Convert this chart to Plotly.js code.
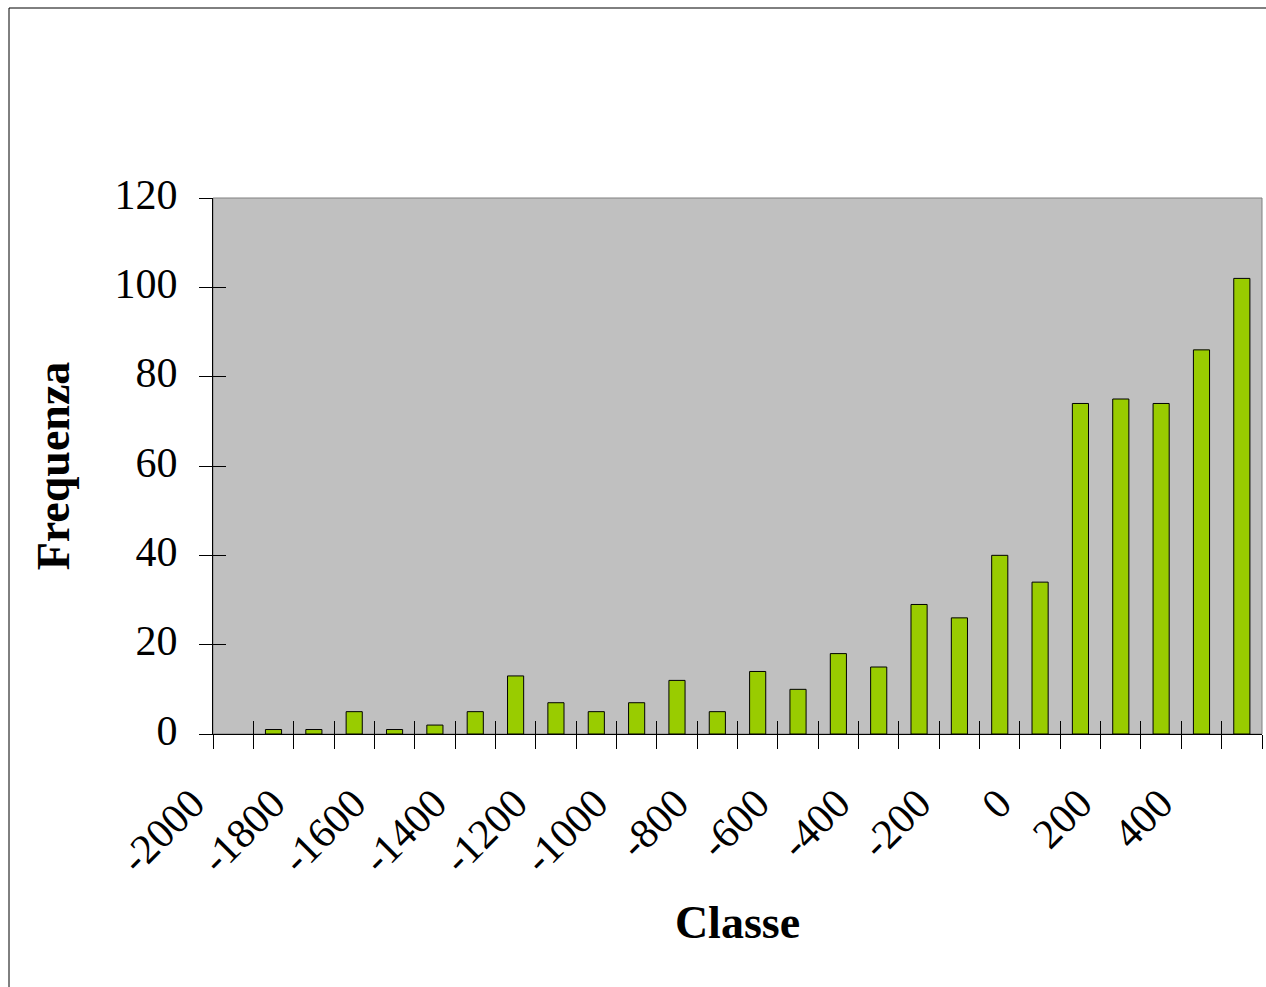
<!DOCTYPE html>
<html>
<head>
<meta charset="utf-8">
<script src="https://cdn.plot.ly/plotly-3.0.1.min.js"></script>
<style>
  html, body { margin: 0; padding: 0; background: #ffffff; }
  #chart { width: 1266px; height: 987px; }
</style>
</head>
<body>
<div id="chart"></div>
<script>
// Class centres (x) and frequencies (y)
const classes = [-2000, -1900, -1800, -1700, -1600, -1500, -1400, -1300, -1200, -1100,
                 -1000, -900, -800, -700, -600, -500, -400, -300, -200, -100,
                 0, 100, 200, 300, 400, 500];
const freq = [0, 1, 1, 5, 1, 2, 5, 13, 7, 5,
              7, 12, 5, 14, 10, 18, 15, 29, 26, 40,
              34, 74, 75, 74, 86, 102];
const xTickLabels = ['-2000', '-1800', '-1600', '-1400', '-1200', '-1000', '-800',
                     '-600', '-400', '-200', '0', '200', '400'];
const yTicks = [0, 20, 40, 60, 80, 100, 120];

const step = classes[1] - classes[0];
const boundaries = classes.map(c => c - step / 2).concat([classes[classes.length - 1] + step / 2]);
const xRange = [boundaries[0], boundaries[boundaries.length - 1]];
const yRange = [yTicks[0], yTicks[yTicks.length - 1]];
const xTickVals = xTickLabels.map(Number);

const serif = '"Liberation Serif", "Times New Roman", Times, serif';

const bars = {
  type: 'bar',
  x: classes,
  y: freq,
  width: step * 0.4,
  marker: { color: '#99CC00', line: { color: '#000000', width: freq.map(v => v > 0 ? 1 : 0) } },
  hoverinfo: 'x+y'
};

// Carrier traces (draw nothing) so the overlay tick axes are rendered
function carrier(xa, ya) {
  return { type: 'scatter', mode: 'none', x: xRange, y: yRange, xaxis: xa, yaxis: ya,
           hoverinfo: 'skip', showlegend: false };
}

const tickAxisBase = {
  showticklabels: false, showline: false, showgrid: false, zeroline: false,
  tickcolor: '#000000', tickwidth: 1, tickmode: 'array'
};

const layout = {
  width: 1266,
  height: 987,
  margin: { l: 213, r: 4, t: 198, b: 253 },
  paper_bgcolor: '#ffffff',
  plot_bgcolor: '#C0C0C0',
  showlegend: false,
  font: { family: serif, color: '#000000' },
  xaxis: {
    range: xRange,
    tickmode: 'array',
    tickvals: xTickVals,
    ticktext: xTickLabels,
    tickangle: -45,
    ticks: '',
    tickfont: { family: serif, size: 42, color: '#000000' },
    ticklabelstandoff: 27,
    ticklabelshift: -41,
    showline: true,
    linecolor: '#000000',
    linewidth: 1,
    showgrid: false,
    zeroline: false,
    title: { text: '<b>Classe</b>', font: { family: serif, size: 46, color: '#000000' }, standoff: 24 }
  },
  xaxis2: Object.assign({}, tickAxisBase, {
    overlaying: 'x', anchor: 'y', range: xRange,
    tickvals: boundaries, ticks: 'outside', ticklen: 14
  }),
  xaxis3: Object.assign({}, tickAxisBase, {
    overlaying: 'x', anchor: 'y', range: xRange,
    tickvals: boundaries, ticks: 'inside', ticklen: 13
  }),
  yaxis: {
    range: yRange,
    tickmode: 'array',
    tickvals: yTicks,
    ticktext: yTicks.map(String),
    ticks: 'outside',
    ticklen: 13,
    tickcolor: '#000000',
    tickwidth: 1,
    tickfont: { family: serif, size: 42, color: '#000000' },
    ticklabelstandoff: 13,
    ticklabelshift: -4,
    showline: true,
    linecolor: '#000000',
    linewidth: 1,
    showgrid: false,
    zeroline: false,
    title: { text: '<b>Frequenza</b>', font: { family: serif, size: 46, color: '#000000' }, standoff: 30 }
  },
  yaxis2: Object.assign({}, tickAxisBase, {
    overlaying: 'y', anchor: 'x', range: yRange,
    tickvals: yTicks, ticks: 'inside', ticklen: 13
  }),
  shapes: [
    // plot-area frame (grey top and right edges)
    { type: 'rect', xref: 'paper', yref: 'paper', x0: 0, x1: 1, y0: 0, y1: 1,
      line: { color: '#808080', width: 1 }, fillcolor: 'rgba(0,0,0,0)', layer: 'below' },
    // outer chart border
    { type: 'rect', xref: 'paper', yref: 'paper',
      x0: -204 / 1049, x1: 1.01, y0: -0.5, y1: 1 + 190 / 536,
      line: { color: '#000000', width: 1 }, fillcolor: 'rgba(0,0,0,0)', layer: 'above' }
  ]
};

Plotly.newPlot('chart',
  [bars, carrier('x2', 'y'), carrier('x3', 'y'), carrier('x', 'y2')],
  layout, { displayModeBar: false, staticPlot: true });
</script>
</body>
</html>
